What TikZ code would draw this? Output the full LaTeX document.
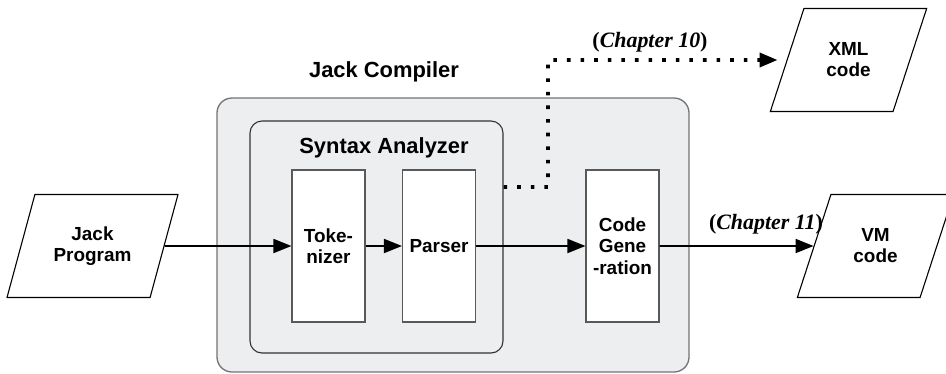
\documentclass[tikz,border=0pt]{standalone}
\usepackage{fontspec}
\setmainfont{Liberation Serif}
\setsansfont{Liberation Sans}
\usetikzlibrary{arrows.meta,shapes.geometric}
\definecolor{panel}{HTML}{EDEEF0}
\tikzset{
  io/.style={draw, trapezium, trapezium left angle=64, trapezium right angle=116,
    trapezium stretches=true, minimum height=103bp, line width=1.1bp, fill=white,
    align=center, inner sep=0pt, font=\sffamily\bfseries\fontsize{19}{21}\selectfont},
  stage/.style={draw=black!65, line width=1.1bp, fill=white, minimum width=73bp,
    minimum height=152bp, inner sep=0pt, align=center,
    font=\sffamily\bfseries\fontsize{19}{21.5}\selectfont},
  title/.style={font=\sffamily\bfseries\fontsize{22}{24}\selectfont},
  chap/.style={font=\rmfamily\bfseries\itshape\fontsize{22}{24}\selectfont},
  tip/.style={-{Triangle[length=18bp,width=14bp]}},
  flow/.style={line width=1.8bp, tip},
}
\begin{document}
\begin{tikzpicture}[x=1bp,y=-1bp]
    \useasboundingbox (0,0) rectangle (946,373);
    % containers
    \node[draw=black!55, line width=1.3bp, fill=panel, rounded corners=15bp,
      minimum width=472bp, minimum height=274bp] (compiler) at (453,235) {};
    \node[draw=black!80, line width=1.1bp, fill=panel, rounded corners=12bp,
      minimum width=253bp, minimum height=232bp] (analyzer) at (376.5,237) {};
    \node[title] (compilertitle) at (384,72) {Jack Compiler};
    \node[title] (analyzertitle) at (384,148) {Syntax Analyzer};
    % stages
    \node[stage] (tokenizer) at (328.5,246) {Toke-\\nizer};
    \node[stage] (parser) at (439,246) {Parser};
    \node[stage] (codegen) at (622.5,246) {Code\\Gene\\-ration};
    % input and outputs
    \node[io, minimum width=171bp] (jack) at (92.5,246) {Jack\\Program};
    \node[io, minimum width=157bp] (xml) at (848.5,60) {XML\\code};
    \node[io, minimum width=157bp] (vm) at (875.5,246) {VM\\code};
    \node[chap] (ch10) at (650,42) {\textup{(}Chapter 10\textup{)}};
    \node[chap] (ch11) at (766,224) {\textup{(}Chapter 11\textup{)}};
    % connectors
    \draw[flow] (jack) -- (tokenizer);
    \draw[flow] (tokenizer) -- (parser);
    \draw[flow] (parser) -- (codegen);
    \draw[flow] (codegen) -- (vm);
    \coordinate (tap) at (analyzer.east |- 0,187);
    \coordinate (bend) at (548,187);
    \draw[line width=3.6bp, dash pattern=on 3.6bp off 10bp, tip, shorten >=9bp]
      (tap) -- (bend) -- (bend |- xml) -- (xml);
\end{tikzpicture}
\end{document}
